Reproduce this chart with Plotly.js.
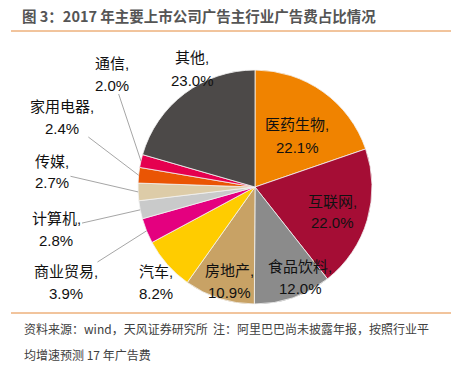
<!DOCTYPE html>
<html>
<head>
<meta charset="utf-8">
<script src="https://cdn.plot.ly/plotly-3.0.1.min.js"></script>
<style>html,body{margin:0;padding:0;background:#fff;}#chart{width:457px;height:369px;}</style>
</head>
<body>
<div id="chart"></div>
<script>
// ---- data ----
const categories = ["医药生物", "互联网", "食品饮料", "房地产", "汽车", "商业贸易", "计算机", "传媒", "家用电器", "通信", "其他"];
const shares = [22.1, 22.0, 12.0, 10.9, 8.2, 3.9, 2.8, 2.7, 2.4, 2.0, 23.0];
const titleText = "图 3：2017 年主要上市公司广告主行业广告费占比情况";
const sourceLine1 = "资料来源：wind，天风证券研究所  注：阿里巴巴尚未披露年报，按照行业平";
const sourceLine2 = "均增速预测 17 年广告费";

// ---- styles / layout ----
const colors = ["#F08300", "#A50D35", "#8B8B8B", "#C8A265", "#FFCC00", "#E4007F", "#C9CACA", "#DDCCA8", "#EA5504", "#E5004F", "#4C4948"];
const W = 457, H = 369;
const cx = 255, cy = 187, R = 117;
// label centres (pixels) and whether a leader line is drawn
const labelPos = [[297,136],[332,212],[300,277],[229,281],[156,282],[66,282],[56,229],[52,172],[62,117],[112,74],[192,69]];
const leader = [false,false,false,false,false,true,true,true,true,true,false];
const lineGap = 11;
const fontFam = "Liberation Sans, Arial, Noto Sans CJK SC, sans-serif";
const cjkFam = "Noto Sans CJK SC, Liberation Sans, sans-serif";
const labelFont = {family:fontFam, size:15, color:'#111'};

const total = shares.reduce((a,b)=>a+b,0);
let cum = 0;
const annotations = [];
shares.forEach((v,i)=>{
  const a0 = cum/total*2*Math.PI; cum += v;
  const a1 = cum/total*2*Math.PI;
  const mid = (a0+a1)/2;
  const hx = cx + R*Math.sin(mid), hy = cy - R*Math.cos(mid);
  const [lx, ly] = labelPos[i];
  const line1 = categories[i] + ",";
  const line2 = v.toFixed(1) + "%";
  if (leader[i]) {
    // invisible box that carries the leader line
    annotations.push({xref:'paper', yref:'paper', x: hx/W, y: 1-hy/H,
      ax: lx-hx, ay: ly-hy, showarrow:true, arrowhead:0, arrowwidth:1, arrowcolor:'#A6A6A6',
      standoff:0, startstandoff:0, text: line1 + "<br>" + line2, align:'center',
      font:{family:fontFam, size:15, color:'rgba(0,0,0,0)'}});
  }
  annotations.push({xref:'paper', yref:'paper', x: lx/W, y: 1-(ly-lineGap)/H, xanchor:'center', yanchor:'middle',
    showarrow:false, text: line1, font: labelFont});
  annotations.push({xref:'paper', yref:'paper', x: lx/W, y: 1-(ly+lineGap)/H, xanchor:'center', yanchor:'middle',
    showarrow:false, text: line2, font: labelFont});
});
annotations.push({xref:'paper', yref:'paper', x:22/W, y:1-328/H, xanchor:'left', yanchor:'middle', showarrow:false,
  text: sourceLine1, font:{family:cjkFam, size:12, color:'#404040'}});
annotations.push({xref:'paper', yref:'paper', x:22/W, y:1-354/H, xanchor:'left', yanchor:'middle', showarrow:false,
  text: sourceLine2, font:{family:cjkFam, size:12, color:'#404040'}});

const trace = {
  type:'pie', labels: categories, values: shares, sort:false, direction:'clockwise', rotation:0,
  marker:{colors: colors, line:{color:'#F2F2F2', width:0.8}},
  textinfo:'none', hoverinfo:'none', showlegend:false,
  domain:{x:[(cx-R)/W,(cx+R)/W], y:[(H-cy-R)/H,(H-cy+R)/H]}
};

const layout = {
  width:W, height:H, margin:{l:0,r:0,t:0,b:0}, paper_bgcolor:'#fff', plot_bgcolor:'#fff',
  title:{text:titleText, x:22/W, xanchor:'left', xref:'paper', y:1-17/H, yanchor:'middle', yref:'paper',
    font:{family:cjkFam, size:14.5, color:'#555555', weight:'bold'}},
  shapes:[
    {type:'line', xref:'paper', yref:'paper', x0:11/W, x1:451/W, y0:1-31/H, y1:1-31/H, line:{color:'#E4893B', width:1}},
    {type:'line', xref:'paper', yref:'paper', x0:11/W, x1:451/W, y0:1-313/H, y1:1-313/H, line:{color:'#E4893B', width:1}}
  ],
  annotations: annotations
};
Plotly.newPlot('chart', [trace], layout, {displayModeBar:false, staticPlot:true});
</script>
</body>
</html>
